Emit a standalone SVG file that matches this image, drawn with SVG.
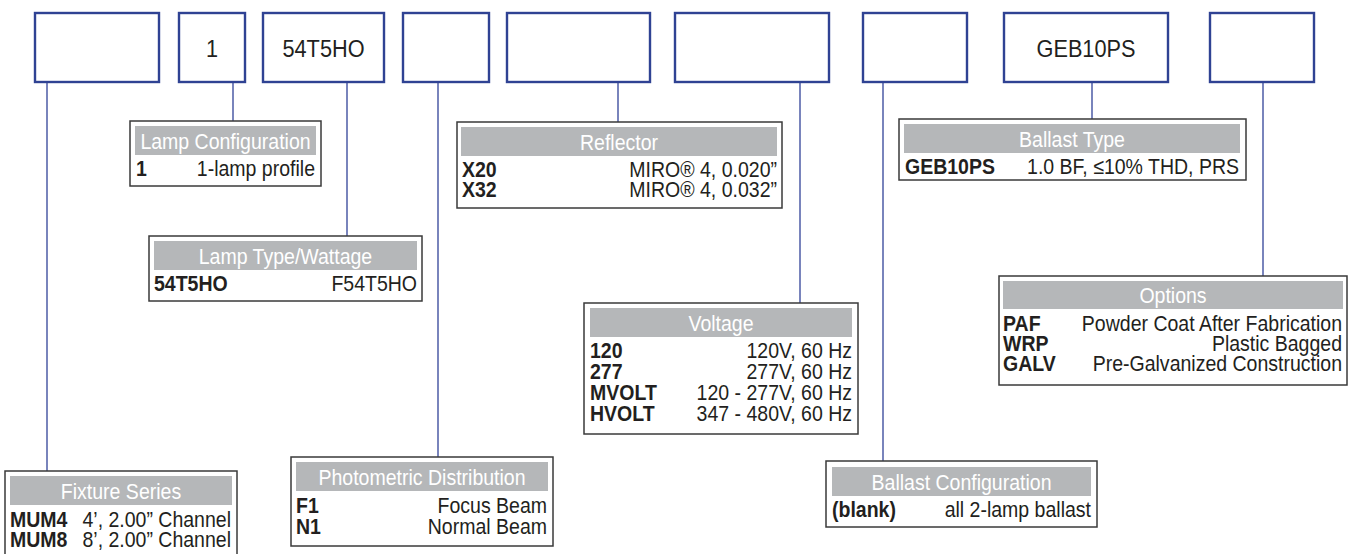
<svg xmlns="http://www.w3.org/2000/svg" width="1354" height="554" viewBox="0 0 1354 554">
<style>
.top{fill:#fff;stroke:#2f4293;stroke-width:2.4}
.box{fill:#fff;stroke:#3a3a3a;stroke-width:1.5}
.hd{fill:#b5b7b9;stroke:none}
.ln{stroke:#4050a0;stroke-width:1.4;fill:none}
text{font-family:"Liberation Sans",Arial,sans-serif;font-size:22px;fill:#231f20}
.big{font-size:24.5px;text-anchor:middle}
.b{font-weight:bold}
.h{fill:#fff;text-anchor:middle}
.r{text-anchor:end}
</style>
<rect width="1354" height="554" fill="#fff"/>
<g id="connectors">
<line class="ln" x1="47" y1="83" x2="47" y2="471"/>
<line class="ln" x1="233" y1="83" x2="233" y2="121"/>
<line class="ln" x1="347" y1="83" x2="347" y2="236"/>
<line class="ln" x1="438" y1="83" x2="438" y2="457"/>
<line class="ln" x1="618" y1="83" x2="618" y2="122"/>
<line class="ln" x1="800" y1="83" x2="800" y2="303"/>
<line class="ln" x1="883" y1="83" x2="883" y2="461"/>
<line class="ln" x1="1092" y1="83" x2="1092" y2="119"/>
<line class="ln" x1="1263" y1="83" x2="1263" y2="276"/>
</g>
<g id="code-boxes">
<g id="code-series"><rect class="top" x="35" y="13" width="124" height="69"/></g>
<g id="code-lamps"><rect class="top" x="179" y="13" width="66" height="69"/><text class="big" transform="translate(212,57) scale(0.887,1)">1</text></g>
<g id="code-lamptype"><rect class="top" x="263" y="13" width="121" height="69"/><text class="big" transform="translate(323.5,57) scale(0.887,1)">54T5HO</text></g>
<g id="code-distribution"><rect class="top" x="403" y="13" width="86" height="69"/></g>
<g id="code-reflector"><rect class="top" x="507" y="13" width="143" height="69"/></g>
<g id="code-voltage"><rect class="top" x="675" y="13" width="154" height="69"/></g>
<g id="code-ballastconfig"><rect class="top" x="863" y="13" width="104" height="69"/></g>
<g id="code-ballasttype"><rect class="top" x="1004" y="13" width="164" height="69"/><text class="big" transform="translate(1086,57) scale(0.887,1)">GEB10PS</text></g>
<g id="code-options"><rect class="top" x="1210" y="13" width="104" height="69"/></g>
</g>
<g id="fixture-series">
<rect class="box" x="5" y="471" width="232" height="92"/>
<rect class="hd" x="10" y="476" width="222" height="29"/>
<text class="h" transform="translate(121,498.5) scale(0.887,1)">Fixture Series</text>
<text class="b" transform="translate(10,527) scale(0.887,1)">MUM4</text>
<text class="r" transform="translate(231,527) scale(0.887,1)">4’, 2.00” Channel</text>
<text class="b" transform="translate(10,547) scale(0.887,1)">MUM8</text>
<text class="r" transform="translate(231,547) scale(0.887,1)">8’, 2.00” Channel</text>
</g>
<g id="lamp-configuration">
<rect class="box" x="130" y="121" width="191" height="65"/>
<rect class="hd" x="135" y="126" width="181" height="29"/>
<text class="h" transform="translate(225.5,148.5) scale(0.887,1)">Lamp Configuration</text>
<text class="b" transform="translate(136,176) scale(0.887,1)">1</text>
<text class="r" transform="translate(315,176) scale(0.887,1)">1-lamp profile</text>
</g>
<g id="lamp-type">
<rect class="box" x="149" y="236" width="273" height="65"/>
<rect class="hd" x="154" y="241" width="263" height="29"/>
<text class="h" transform="translate(285.5,263.5) scale(0.887,1)">Lamp Type/Wattage</text>
<text class="b" transform="translate(154,291) scale(0.887,1)">54T5HO</text>
<text class="r" transform="translate(417,291) scale(0.887,1)">F54T5HO</text>
</g>
<g id="photometric-distribution">
<rect class="box" x="291" y="457" width="262" height="89"/>
<rect class="hd" x="296" y="462" width="252" height="29"/>
<text class="h" transform="translate(422,484.5) scale(0.887,1)">Photometric Distribution</text>
<text class="b" transform="translate(296,513) scale(0.887,1)">F1</text>
<text class="r" transform="translate(547,513) scale(0.887,1)">Focus Beam</text>
<text class="b" transform="translate(296,534) scale(0.887,1)">N1</text>
<text class="r" transform="translate(547,534) scale(0.887,1)">Normal Beam</text>
</g>
<g id="reflector">
<rect class="box" x="457" y="122" width="325" height="86"/>
<rect class="hd" x="461" y="127" width="316" height="29"/>
<text class="h" transform="translate(619,149.5) scale(0.887,1)">Reflector</text>
<text class="b" transform="translate(462,177) scale(0.887,1)">X20</text>
<text class="r" transform="translate(777,177) scale(0.887,1)">MIRO® 4, 0.020”</text>
<text class="b" transform="translate(462,197) scale(0.887,1)">X32</text>
<text class="r" transform="translate(777,197) scale(0.887,1)">MIRO® 4, 0.032”</text>
</g>
<g id="voltage">
<rect class="box" x="584" y="303" width="274" height="131"/>
<rect class="hd" x="590" y="308" width="262" height="29"/>
<text class="h" transform="translate(721,330.5) scale(0.887,1)">Voltage</text>
<text class="b" transform="translate(590,358) scale(0.887,1)">120</text>
<text class="r" transform="translate(852,358) scale(0.887,1)">120V, 60 Hz</text>
<text class="b" transform="translate(590,379) scale(0.887,1)">277</text>
<text class="r" transform="translate(852,379) scale(0.887,1)">277V, 60 Hz</text>
<text class="b" transform="translate(590,400) scale(0.887,1)">MVOLT</text>
<text class="r" transform="translate(852,400) scale(0.887,1)">120 - 277V, 60 Hz</text>
<text class="b" transform="translate(590,421) scale(0.887,1)">HVOLT</text>
<text class="r" transform="translate(852,421) scale(0.887,1)">347 - 480V, 60 Hz</text>
</g>
<g id="ballast-configuration">
<rect class="box" x="826" y="461" width="271" height="66"/>
<rect class="hd" x="832" y="467" width="259" height="29"/>
<text class="h" transform="translate(961.5,489.5) scale(0.887,1)">Ballast Configuration</text>
<text class="b" transform="translate(832,517) scale(0.887,1)">(blank)</text>
<text class="r" transform="translate(1091,517) scale(0.887,1)">all 2-lamp ballast</text>
</g>
<g id="ballast-type">
<rect class="box" x="899" y="119" width="347" height="61"/>
<rect class="hd" x="904" y="124" width="336" height="29"/>
<text class="h" transform="translate(1072,146.5) scale(0.887,1)">Ballast Type</text>
<text class="b" transform="translate(905,174) scale(0.887,1)">GEB10PS</text>
<text class="r" transform="translate(1239,174) scale(0.887,1)">1.0 BF, ≤10% THD, PRS</text>
</g>
<g id="options">
<rect class="box" x="999" y="276" width="348" height="109"/>
<rect class="hd" x="1003" y="281" width="340" height="28"/>
<text class="h" transform="translate(1173,302.5) scale(0.887,1)">Options</text>
<text class="b" transform="translate(1003,331) scale(0.887,1)">PAF</text>
<text class="r" transform="translate(1342,331) scale(0.887,1)">Powder Coat After Fabrication</text>
<text class="b" transform="translate(1003,351) scale(0.887,1)">WRP</text>
<text class="r" transform="translate(1342,351) scale(0.887,1)">Plastic Bagged</text>
<text class="b" transform="translate(1003,371) scale(0.887,1)">GALV</text>
<text class="r" transform="translate(1342,371) scale(0.887,1)">Pre-Galvanized Construction</text>
</g>
</svg>
